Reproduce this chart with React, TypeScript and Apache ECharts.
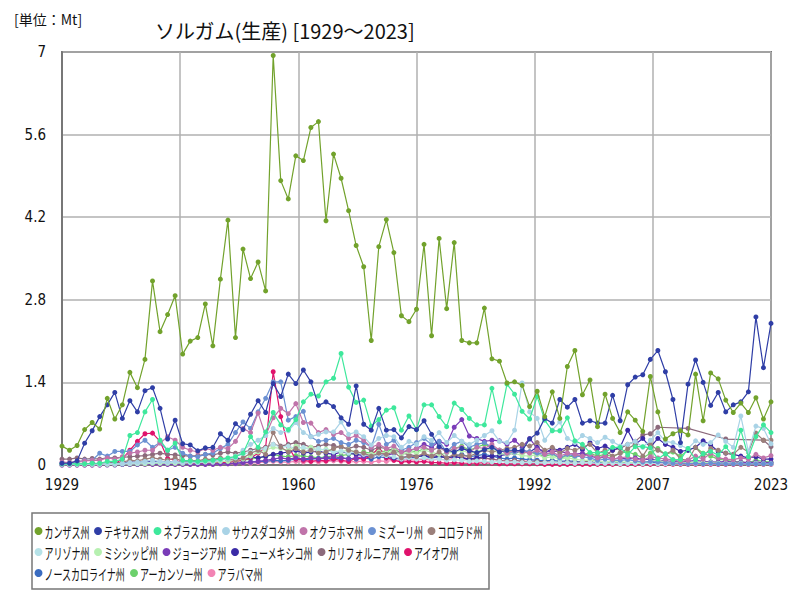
import React, { useEffect, useRef } from "react";
import * as echarts from "echarts";

const TITLE = "ソルガム(生産) [1929～2023]";
const UNIT = "[単位：Mt]";
const START_YEAR = 1929;
const END_YEAR = 2023;
const years: number[] = [];
for (let y = START_YEAR; y <= END_YEAR; y++) years.push(y);

const seriesNames = [
  "カンザス州", "テキサス州", "ネブラスカ州", "サウスダコタ州", "オクラホマ州", "ミズーリ州", "コロラド州",
  "アリゾナ州", "ミシシッピ州", "ジョージア州", "ニューメキシコ州", "カリフォルニア州", "アイオワ州",
  "ノースカロライナ州", "アーカンソー州", "アラバマ州",
];
const seriesColors = [
  "#72a22c", "#2f3ea6", "#3ee89c", "#a9d3e6", "#c074aa", "#6a90d2", "#9b7f7a",
  "#b6e2e8", "#b6f0b0", "#7a3cb8", "#3a2aa6", "#8c6a7c", "#e0126c",
  "#3a6cc0", "#6cd06c", "#f284b4",
];

// values per year, 1929..2023
const kansas = [
  0.32, 0.25, 0.33, 0.60, 0.72, 0.61, 1.13, 0.78, 1.02, 1.57,
  1.31, 1.79, 3.12, 2.26, 2.55, 2.87, 1.88, 2.10, 2.16, 2.73,
  2.02, 3.15, 4.15, 2.16, 3.66, 3.16, 3.44, 2.95, 6.94, 4.82,
  4.51, 5.24, 5.16, 5.72, 5.82, 4.14, 5.27, 4.86, 4.31, 3.72,
  3.36, 2.11, 3.70, 4.16, 3.60, 2.53, 2.43, 2.64, 3.74, 2.19,
  3.84, 2.65, 3.77, 2.11, 2.07, 2.07, 2.66, 1.80, 1.76, 1.39,
  1.41, 1.35, 0.99, 1.25, 0.82, 1.24, 0.79, 1.67, 1.94, 1.19,
  1.44, 0.65, 1.20, 0.79, 0.55, 0.90, 0.76, 0.57, 1.50, 0.90,
  0.44, 0.53, 0.58, 0.51, 1.54, 0.75, 1.56, 1.46, 1.10, 0.89,
  1.05, 0.89, 1.14, 0.78, 1.07,
];
const texas = [
  0.03, 0.03, 0.07, 0.37, 0.58, 0.82, 1.02, 1.23, 0.79, 1.09,
  0.90, 1.26, 1.31, 0.96, 0.44, 0.76, 0.36, 0.34, 0.24, 0.29,
  0.30, 0.53, 0.42, 0.70, 0.60, 0.86, 1.09, 0.89, 1.38, 1.16,
  1.54, 1.38, 1.61, 1.41, 1.01, 1.07, 0.99, 0.80, 0.69, 1.34,
  0.69, 0.59, 0.96, 0.59, 0.60, 0.46, 0.65, 0.60, 0.75, 0.52,
  0.31, 0.25, 0.22, 0.28, 0.24, 0.21, 0.26, 0.30, 0.22, 0.25,
  0.25, 0.24, 0.44, 0.54, 0.79, 0.71, 1.11, 0.98, 1.11, 0.71,
  0.75, 0.71, 0.71, 1.18, 0.75, 1.36, 1.49, 1.53, 1.79, 1.94,
  1.58, 1.11, 0.38, 1.37, 1.78, 1.40, 1.01, 1.23, 0.90, 1.02,
  1.07, 1.24, 2.51, 1.65, 2.40,
];
const nebraska = [
  0.02, 0.02, 0.02, 0.02, 0.03, 0.03, 0.06, 0.06, 0.10, 0.50,
  0.55, 0.90, 1.11, 0.42, 0.25, 0.37, 0.08, 0.07, 0.06, 0.07,
  0.08, 0.10, 0.12, 0.14, 0.20, 0.48, 0.30, 0.56, 0.89, 0.68,
  0.60, 0.77, 1.07, 1.20, 1.17, 1.41, 1.47, 1.89, 1.32, 1.06,
  1.10, 0.66, 0.77, 0.93, 0.97, 0.59, 0.83, 0.60, 1.02, 1.02,
  0.82, 0.65, 1.05, 0.94, 0.79, 0.68, 0.68, 1.30, 0.73, 1.37,
  1.20, 0.91, 0.78, 1.16, 0.76, 0.58, 0.58, 0.80, 0.41, 0.35,
  0.21, 0.21, 0.21, 0.30, 0.30, 0.17, 0.31, 0.31, 0.29, 0.10,
  0.19, 0.09, 0.09, 0.28, 0.09, 0.19, 0.23, 0.17, 0.31, 0.14,
  0.59, 0.14, 0.48, 0.68, 0.55,
];
const southDakota = [
  0.02, 0.02, 0.03, 0.02, 0.02, 0.01, 0.03, 0.02, 0.03, 0.04,
  0.05, 0.06, 0.08, 0.06, 0.05, 0.06, 0.04, 0.05, 0.04, 0.06,
  0.05, 0.08, 0.10, 0.12, 0.25, 0.35, 0.42, 0.50, 0.62, 0.55,
  0.58, 0.72, 0.55, 0.48, 0.52, 0.56, 0.56, 0.73, 0.52, 0.56,
  0.48, 0.34, 0.45, 0.50, 0.48, 0.30, 0.40, 0.35, 0.48, 0.42,
  0.55, 0.38, 0.50, 0.40, 0.35, 0.42, 0.50, 0.58, 0.40, 0.38,
  0.59, 1.39, 0.90, 0.79, 0.42, 0.59, 0.73, 0.45, 0.38, 0.50,
  0.45, 0.38, 0.47, 0.40, 0.32, 0.35, 0.40, 0.30, 0.42, 0.55,
  0.40, 0.38, 0.33, 0.28, 0.41, 0.35, 0.38, 0.51, 0.40, 0.30,
  0.83, 0.23, 0.66, 0.62, 0.36,
];
const oklahoma = [
  0.05, 0.04, 0.06, 0.07, 0.08, 0.08, 0.12, 0.10, 0.14, 0.20,
  0.22, 0.25, 0.25, 0.37, 0.48, 0.42, 0.30, 0.25, 0.22, 0.28,
  0.25, 0.30, 0.28, 0.40, 0.62, 0.55, 0.88, 0.50, 0.80, 0.96,
  0.87, 1.04, 0.72, 0.71, 0.55, 0.60, 0.52, 0.55, 0.45, 0.50,
  0.42, 0.30, 0.35, 0.28, 0.32, 0.22, 0.25, 0.28, 0.30, 0.25,
  0.30, 0.22, 0.28, 0.30, 0.22, 0.30, 0.28, 0.35, 0.25, 0.20,
  0.25, 0.22, 0.20, 0.25, 0.18, 0.22, 0.15, 0.20, 0.18, 0.15,
  0.18, 0.12, 0.15, 0.10, 0.12, 0.14, 0.10, 0.08, 0.14, 0.12,
  0.10, 0.09, 0.06, 0.08, 0.15, 0.10, 0.20, 0.12, 0.10, 0.09,
  0.12, 0.10, 0.18, 0.12, 0.16,
];
const missouri = [
  0.03, 0.03, 0.05, 0.08, 0.08, 0.20, 0.15, 0.23, 0.23, 0.23,
  0.34, 0.42, 0.30, 0.38, 0.25, 0.30, 0.20, 0.15, 0.14, 0.18,
  0.20, 0.28, 0.35, 0.55, 0.73, 0.62, 0.90, 1.13, 1.41, 1.41,
  0.76, 0.82, 0.91, 0.48, 0.40, 0.42, 0.45, 0.38, 0.35, 0.42,
  0.38, 0.30, 0.69, 0.35, 0.42, 0.25, 0.30, 0.38, 0.45, 0.35,
  0.40, 0.22, 0.35, 0.40, 0.30, 0.35, 0.38, 0.30, 0.25, 0.20,
  0.22, 0.25, 0.22, 0.20, 0.18, 0.20, 0.12, 0.18, 0.15, 0.14,
  0.12, 0.08, 0.10, 0.08, 0.08, 0.09, 0.07, 0.05, 0.06, 0.05,
  0.04, 0.03, 0.03, 0.02, 0.03, 0.02, 0.03, 0.02, 0.02, 0.02,
  0.02, 0.02, 0.02, 0.02, 0.02,
];
const colorado = [
  0.02, 0.02, 0.03, 0.03, 0.02, 0.01, 0.04, 0.03, 0.05, 0.08,
  0.07, 0.10, 0.12, 0.10, 0.08, 0.12, 0.06, 0.08, 0.07, 0.10,
  0.09, 0.12, 0.10, 0.08, 0.12, 0.20, 0.25, 0.18, 0.55, 0.30,
  0.22, 0.28, 0.22, 0.25, 0.20, 0.22, 0.28, 0.32, 0.25, 0.22,
  0.20, 0.15, 0.20, 0.18, 0.22, 0.12, 0.15, 0.14, 0.20, 0.15,
  0.22, 0.12, 0.18, 0.16, 0.15, 0.20, 0.25, 0.22, 0.25, 0.28,
  0.30, 0.35, 0.32, 0.38, 0.25, 0.30, 0.20, 0.28, 0.25, 0.30,
  0.35, 0.20, 0.25, 0.15, 0.20, 0.28, 0.35, 0.15, 0.35, 0.25,
  0.18, 0.25, 0.10, 0.08, 0.30, 0.15, 0.28, 0.25, 0.20, 0.18,
  0.30, 0.22, 0.54, 0.42, 0.42,
];
const arizona = [
  0.01, 0.01, 0.01, 0.02, 0.01, 0.01, 0.02, 0.02, 0.02, 0.03,
  0.03, 0.04, 0.04, 0.05, 0.04, 0.05, 0.04, 0.05, 0.05, 0.06,
  0.08, 0.10, 0.12, 0.15, 0.18, 0.22, 0.25, 0.28, 0.35, 0.30,
  0.32, 0.28, 0.30, 0.25, 0.28, 0.25, 0.22, 0.24, 0.20, 0.22,
  0.18, 0.15, 0.18, 0.16, 0.14, 0.10, 0.12, 0.10, 0.12, 0.10,
  0.10, 0.08, 0.09, 0.08, 0.06, 0.07, 0.06, 0.05, 0.06, 0.05,
  0.05, 0.04, 0.05, 0.04, 0.04, 0.05, 0.04, 0.04, 0.03, 0.04,
  0.04, 0.03, 0.03, 0.03, 0.02, 0.03, 0.03, 0.02, 0.03, 0.02,
  0.02, 0.02, 0.02, 0.02, 0.02, 0.02, 0.02, 0.02, 0.02, 0.02,
  0.02, 0.02, 0.02, 0.02, 0.02,
];
const mississippi = [
  0.01, 0.01, 0.01, 0.01, 0.01, 0.01, 0.01, 0.01, 0.02, 0.02,
  0.02, 0.02, 0.03, 0.03, 0.03, 0.03, 0.03, 0.04, 0.04, 0.05,
  0.05, 0.06, 0.06, 0.08, 0.10, 0.15, 0.22, 0.25, 0.30, 0.28,
  0.25, 0.32, 0.28, 0.30, 0.25, 0.27, 0.24, 0.22, 0.26, 0.22,
  0.20, 0.18, 0.22, 0.20, 0.25, 0.18, 0.22, 0.20, 0.25, 0.22,
  0.18, 0.20, 0.22, 0.25, 0.20, 0.22, 0.28, 0.25, 0.20, 0.18,
  0.20, 0.16, 0.15, 0.18, 0.12, 0.14, 0.10, 0.12, 0.10, 0.08,
  0.08, 0.06, 0.05, 0.06, 0.05, 0.05, 0.04, 0.04, 0.06, 0.08,
  0.05, 0.04, 0.03, 0.04, 0.05, 0.04, 0.04, 0.03, 0.03, 0.03,
  0.03, 0.02, 0.03, 0.02, 0.02,
];
const georgia = [
  0.00, 0.00, 0.00, 0.00, 0.00, 0.00, 0.00, 0.00, 0.01, 0.01,
  0.01, 0.01, 0.01, 0.01, 0.01, 0.01, 0.01, 0.01, 0.01, 0.01,
  0.01, 0.02, 0.02, 0.03, 0.04, 0.05, 0.06, 0.08, 0.10, 0.12,
  0.10, 0.12, 0.10, 0.12, 0.10, 0.12, 0.14, 0.12, 0.10, 0.12,
  0.14, 0.15, 0.18, 0.16, 0.20, 0.22, 0.25, 0.28, 0.35, 0.30,
  0.40, 0.35, 0.64, 0.77, 0.49, 0.45, 0.40, 0.42, 0.41, 0.35,
  0.42, 0.30, 0.45, 0.28, 0.23, 0.23, 0.23, 0.20, 0.18, 0.20,
  0.15, 0.12, 0.14, 0.10, 0.12, 0.10, 0.12, 0.09, 0.10, 0.08,
  0.07, 0.06, 0.05, 0.06, 0.08, 0.06, 0.05, 0.05, 0.06, 0.05,
  0.05, 0.04, 0.05, 0.04, 0.04,
];
const newMexico = [
  0.02, 0.02, 0.03, 0.02, 0.03, 0.02, 0.03, 0.04, 0.04, 0.05,
  0.05, 0.06, 0.06, 0.05, 0.06, 0.05, 0.04, 0.06, 0.05, 0.07,
  0.08, 0.10, 0.09, 0.12, 0.10, 0.14, 0.12, 0.15, 0.18, 0.20,
  0.22, 0.25, 0.20, 0.22, 0.24, 0.20, 0.18, 0.22, 0.20, 0.18,
  0.16, 0.14, 0.18, 0.15, 0.12, 0.10, 0.12, 0.14, 0.16, 0.12,
  0.15, 0.12, 0.14, 0.12, 0.10, 0.12, 0.14, 0.15, 0.16, 0.18,
  0.20, 0.25, 0.22, 0.30, 0.20, 0.28, 0.25, 0.30, 0.35, 0.26,
  0.38, 0.28, 0.32, 0.25, 0.30, 0.59, 0.35, 0.45, 0.30, 0.45,
  0.35, 0.30, 0.23, 0.25, 0.30, 0.41, 0.34, 0.23, 0.20, 0.18,
  0.15, 0.12, 0.14, 0.10, 0.10,
];
const california = [
  0.10, 0.10, 0.12, 0.10, 0.11, 0.10, 0.12, 0.12, 0.13, 0.14,
  0.15, 0.16, 0.18, 0.20, 0.18, 0.17, 0.16, 0.15, 0.16, 0.18,
  0.17, 0.20, 0.22, 0.20, 0.22, 0.25, 0.28, 0.30, 0.35, 0.32,
  0.35, 0.38, 0.35, 0.30, 0.32, 0.35, 0.33, 0.30, 0.28, 0.32,
  0.30, 0.25, 0.30, 0.28, 0.25, 0.20, 0.18, 0.15, 0.18, 0.15,
  0.16, 0.12, 0.15, 0.12, 0.08, 0.10, 0.12, 0.10, 0.08, 0.06,
  0.08, 0.06, 0.05, 0.06, 0.05, 0.05, 0.04, 0.05, 0.04, 0.05,
  0.06, 0.10, 0.15, 0.25, 0.28, 0.35, 0.40, 0.51, 0.53, 0.64,
  null, null, null, 0.62, null, null, null, null, 0.44, null,
  null, null, null, 0.42, 0.31,
];
const iowa = [
  0.01, 0.01, 0.01, 0.02, 0.02, 0.01, 0.03, 0.02, 0.10, 0.25,
  0.40, 0.53, 0.54, 0.40, 0.11, 0.08, 0.04, 0.03, 0.03, 0.04,
  0.03, 0.04, 0.05, 0.06, 0.08, 0.12, 0.20, 0.30, 1.58, 0.82,
  0.31, 0.10, 0.08, 0.06, 0.08, 0.07, 0.10, 0.08, 0.06, 0.12,
  0.10, 0.15, 0.30, 0.12, 0.08, 0.05, 0.06, 0.05, 0.06, 0.04,
  0.04, 0.03, 0.04, 0.03, 0.03, 0.03, 0.04, 0.03, 0.02, 0.02,
  0.02, 0.02, 0.02, 0.02, 0.01, 0.01, 0.01, 0.01, 0.01, 0.01,
  0.01, 0.01, 0.01, 0.01, 0.01, 0.01, 0.01, 0.01, 0.01, 0.01,
  0.01, 0.01, 0.01, 0.01, 0.01, 0.01, 0.01, 0.01, 0.01, 0.01,
  0.01, 0.01, 0.01, 0.01, 0.01,
];
const northCarolina = [
  0.01, 0.01, 0.01, 0.01, 0.01, 0.01, 0.01, 0.01, 0.01, 0.01,
  0.01, 0.02, 0.02, 0.02, 0.02, 0.02, 0.02, 0.02, 0.02, 0.02,
  0.02, 0.03, 0.03, 0.03, 0.04, 0.05, 0.06, 0.06, 0.08, 0.07,
  0.08, 0.10, 0.09, 0.10, 0.11, 0.12, 0.10, 0.12, 0.11, 0.10,
  0.12, 0.10, 0.14, 0.12, 0.10, 0.12, 0.15, 0.14, 0.16, 0.12,
  0.14, 0.12, 0.15, 0.18, 0.14, 0.16, 0.18, 0.15, 0.12, 0.10,
  0.12, 0.10, 0.09, 0.08, 0.07, 0.08, 0.06, 0.07, 0.06, 0.05,
  0.05, 0.04, 0.04, 0.03, 0.04, 0.04, 0.03, 0.03, 0.04, 0.05,
  0.04, 0.03, 0.03, 0.04, 0.05, 0.04, 0.05, 0.04, 0.03, 0.03,
  0.03, 0.03, 0.04, 0.03, 0.03,
];
const arkansas = [
  0.01, 0.01, 0.01, 0.01, 0.01, 0.01, 0.02, 0.02, 0.02, 0.02,
  0.02, 0.03, 0.03, 0.03, 0.03, 0.03, 0.03, 0.03, 0.03, 0.04,
  0.04, 0.05, 0.05, 0.06, 0.08, 0.10, 0.12, 0.14, 0.18, 0.15,
  0.14, 0.16, 0.15, 0.14, 0.12, 0.14, 0.15, 0.16, 0.18, 0.20,
  0.22, 0.20, 0.25, 0.22, 0.28, 0.20, 0.25, 0.22, 0.28, 0.25,
  0.30, 0.22, 0.28, 0.32, 0.25, 0.30, 0.35, 0.30, 0.25, 0.22,
  0.25, 0.20, 0.22, 0.18, 0.15, 0.18, 0.12, 0.15, 0.14, 0.18,
  0.20, 0.15, 0.18, 0.14, 0.20, 0.22, 0.18, 0.12, 0.20, 0.28,
  0.18, 0.22, 0.15, 0.25, 0.30, 0.20, 0.15, 0.10, 0.08, 0.06,
  0.05, 0.04, 0.08, 0.06, 0.05,
];
const alabama = [
  0.00, 0.00, 0.00, 0.00, 0.00, 0.00, 0.01, 0.01, 0.01, 0.01,
  0.01, 0.01, 0.01, 0.01, 0.01, 0.01, 0.01, 0.01, 0.01, 0.01,
  0.01, 0.02, 0.02, 0.02, 0.03, 0.03, 0.04, 0.05, 0.06, 0.05,
  0.05, 0.06, 0.05, 0.06, 0.05, 0.06, 0.07, 0.06, 0.05, 0.06,
  0.06, 0.05, 0.07, 0.06, 0.08, 0.07, 0.09, 0.08, 0.10, 0.08,
  0.10, 0.08, 0.12, 0.14, 0.10, 0.12, 0.11, 0.10, 0.08, 0.07,
  0.08, 0.06, 0.07, 0.06, 0.05, 0.05, 0.04, 0.05, 0.04, 0.04,
  0.04, 0.03, 0.03, 0.03, 0.03, 0.04, 0.03, 0.02, 0.03, 0.04,
  0.03, 0.02, 0.02, 0.03, 0.04, 0.03, 0.03, 0.02, 0.02, 0.02,
  0.02, 0.02, 0.02, 0.02, 0.02,
];

const seriesValues: (number | null)[][] = [
  kansas, texas, nebraska, southDakota, oklahoma, missouri, colorado,
  arizona, mississippi, georgia, newMexico, california, iowa,
  northCarolina, arkansas, alabama,
];
const legendRows = [7, 6, 3];

const LATIN = "'Liberation Sans Narrow', 'DejaVu Sans Condensed', 'Noto Sans CJK JP', sans-serif";
const CJK = "'Noto Sans CJK JP', sans-serif";

function buildLegend() {
  const children: any[] = [];
  children.push({
    type: "rect",
    shape: { x: 32, y: 513, width: 457, height: 76 },
    style: { fill: "#fff", stroke: "#777", lineWidth: 1.5 },
  });
  let idx = 0;
  const rowY = [531, 552, 573];
  legendRows.forEach((count, r) => {
    let x = 38.5;
    for (let k = 0; k < count; k++, idx++) {
      const name = seriesNames[idx];
      const n = Array.from(name).length;
      children.push({
        type: "circle",
        shape: { cx: x, cy: rowY[r], r: 4 },
        style: { fill: seriesColors[idx] },
      });
      children.push({
        type: "text",
        x: x + 6,
        y: rowY[r] + 0.5,
        scaleX: 0.6,
        style: {
          text: name,
          fill: "#111",
          font: `15px ${CJK}`,
          verticalAlign: "middle",
          align: "left",
        },
      });
      x += 14.5 + 9 * n;
    }
  });
  return children;
}

export default function App() {
  const ref = useRef<HTMLDivElement>(null);
  useEffect(() => {
    if (!ref.current) return;
    const chart = echarts.init(ref.current, undefined, { renderer: "svg" });
    const series = seriesNames.map((name, i) => ({
      name,
      type: "line",
      data: years.map((y, j) => [y, seriesValues[i][j]]),
      symbol: "circle",
      symbolSize: 5,
      showSymbol: true,
      connectNulls: true,
      lineStyle: { width: 1.2, color: seriesColors[i] },
      itemStyle: { color: seriesColors[i] },
      z: 2 + (seriesNames.length - i) * 0.01,
    }));
    chart.setOption({
      animation: false,
      backgroundColor: "#fff",
      title: [
        {
          text: TITLE,
          left: 150,
          top: 15,
          textStyle: { fontFamily: CJK, fontSize: 20, fontWeight: "normal", color: "#111" },
        },
        {
          text: UNIT,
          left: 9,
          top: 7,
          textStyle: { fontFamily: CJK, fontSize: 14, fontWeight: "normal", color: "#111" },
        },
      ],
      grid: {
        left: 62,
        right: 29,
        top: 52,
        bottom: 135,
        show: true,
        borderColor: "#777",
        borderWidth: 2,
      },
      xAxis: {
        type: "value",
        min: START_YEAR,
        max: END_YEAR,
        interval: (END_YEAR - START_YEAR) / 6,
        axisLine: { show: true, lineStyle: { color: "#777", width: 2 } },
        axisTick: { show: false },
        axisLabel: {
          margin: 12,
          fontSize: 15,
          fontFamily: LATIN,
          color: "#111",
          formatter: (v: number) => String(Math.round(v)),
        },
        splitLine: { show: true, lineStyle: { color: "#b0b0b0", width: 1.5 } },
      },
      yAxis: {
        type: "value",
        min: 0,
        max: 7,
        interval: 1.4,
        axisLine: { show: true, lineStyle: { color: "#777", width: 2 } },
        axisTick: { show: false },
        axisLabel: {
          margin: 16,
          fontSize: 15,
          fontFamily: LATIN,
          color: "#111",
          formatter: (v: number) => String(Math.round(v * 10) / 10),
        },
        splitLine: { show: true, lineStyle: { color: "#b0b0b0", width: 1.5 } },
      },
      series,
      graphic: [{ type: "group", children: buildLegend() }],
    });
    return () => chart.dispose();
  }, []);
  return <div ref={ref} style={{ width: 800, height: 600, position: "absolute", left: 0, top: 0 }} />;
}
